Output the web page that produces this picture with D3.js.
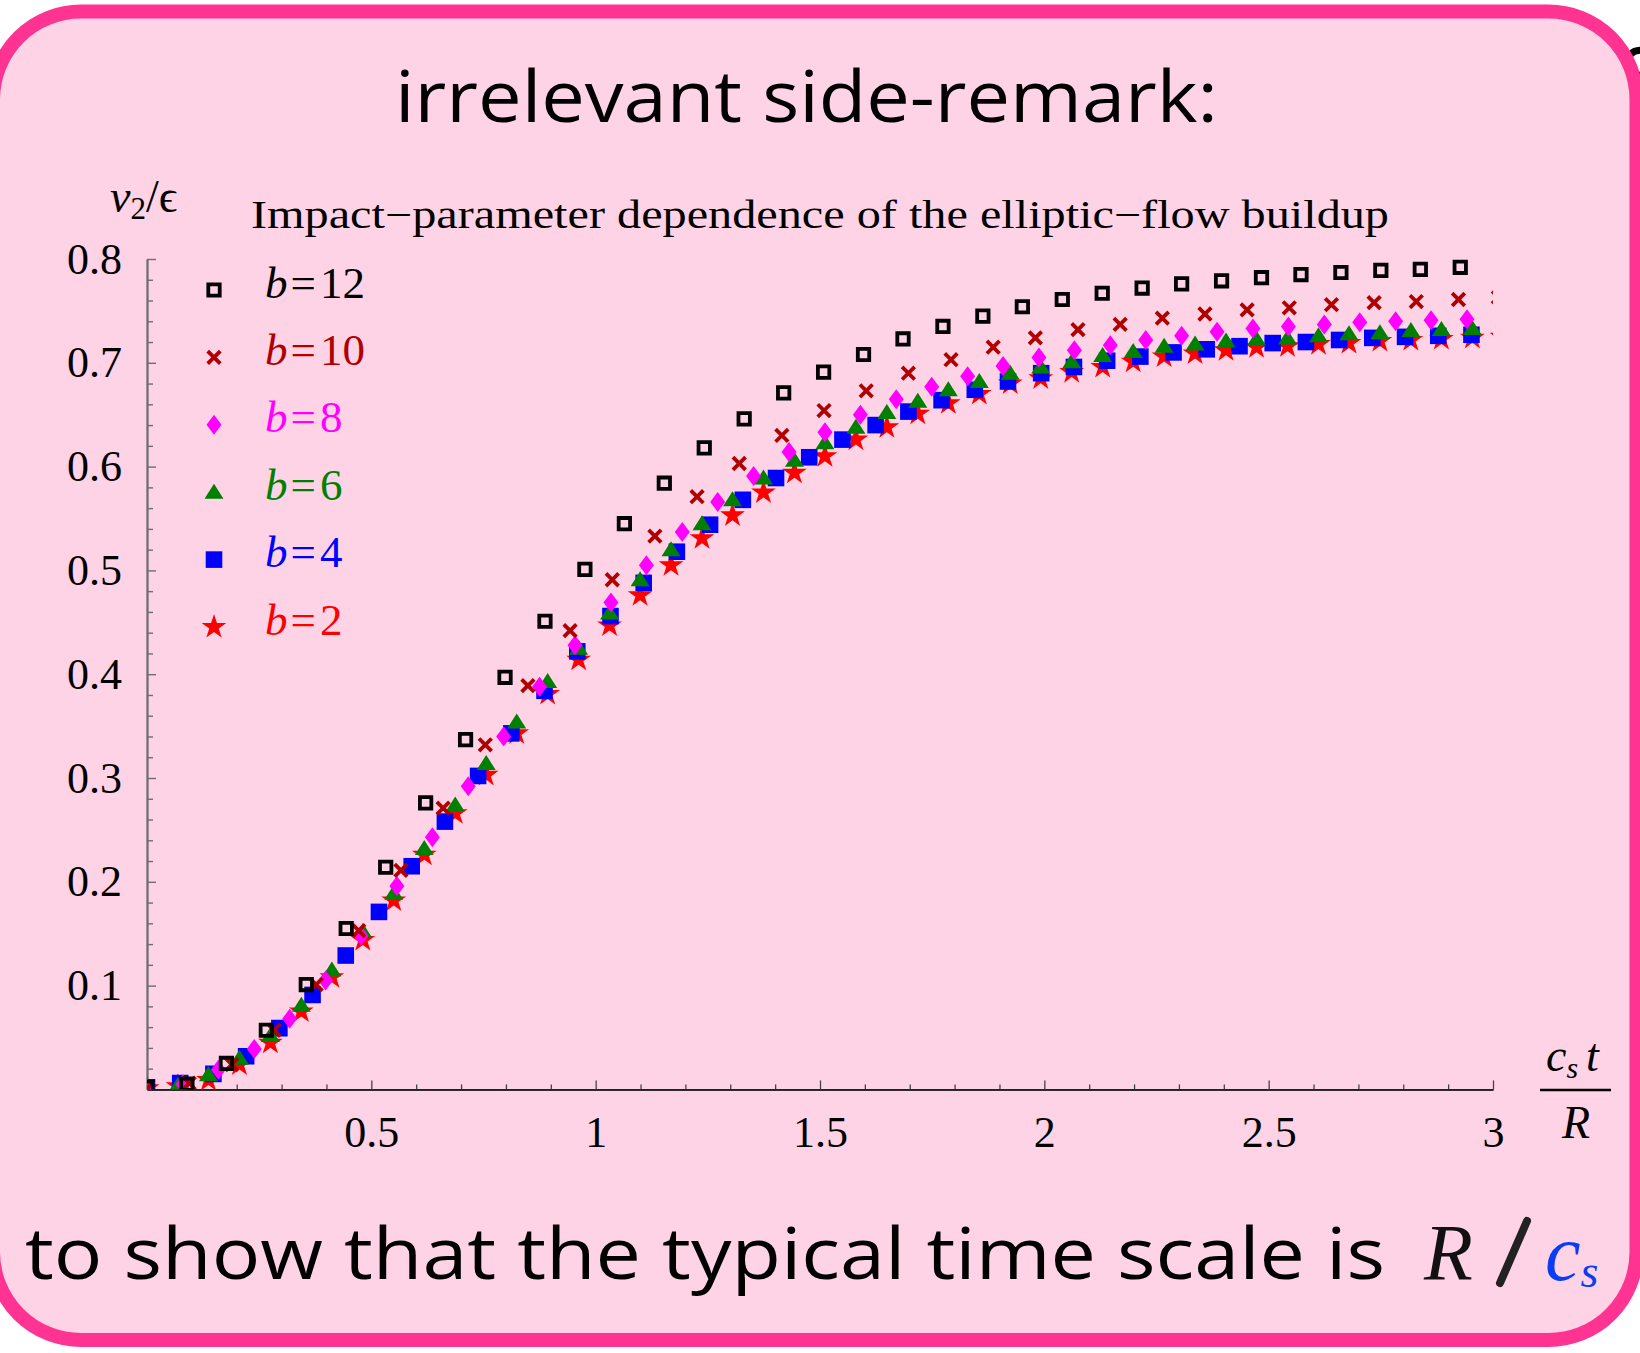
<!DOCTYPE html>
<html><head><meta charset="utf-8">
<script src="https://cdn.jsdelivr.net/npm/d3@7"></script>
<style>html,body{margin:0;padding:0;background:#fff;overflow:hidden}</style>
</head><body><svg id="c" width="1640" height="1353"></svg>
<script>
// ---------------- data ----------------
const seriesLabels = ["12", "10", "8", "6", "4", "2"]; // b values

const t_b12 = [0,0.089,0.177,0.266,0.355,0.444,0.532,0.621,0.710,0.798,0.887,0.976,1.064,1.153,1.242,1.331,1.419,1.508,1.597,1.685,1.774,1.863,1.951,2.040,2.129,2.218,2.306,2.395,2.484,2.572,2.661,2.750,2.838,2.927];
const v_b12 = [0.002,0.005,0.025,0.057,0.101,0.155,0.214,0.276,0.337,0.397,0.451,0.501,0.545,0.584,0.618,0.646,0.671,0.691,0.708,0.723,0.735,0.745,0.754,0.761,0.767,0.772,0.776,0.779,0.782,0.785,0.787,0.789,0.790,0.792];

const t_b10 = [0,0.094,0.189,0.283,0.377,0.472,0.566,0.660,0.754,0.849,0.943,1.037,1.132,1.226,1.320,1.415,1.509,1.603,1.697,1.792,1.886,1.980,2.075,2.169,2.263,2.358,2.452,2.546,2.640,2.735,2.829,2.923,3.012];
const v_b10 = [0.001,0.006,0.024,0.057,0.101,0.153,0.211,0.271,0.332,0.389,0.442,0.491,0.533,0.571,0.603,0.630,0.654,0.673,0.690,0.703,0.715,0.724,0.732,0.737,0.743,0.747,0.751,0.753,0.756,0.758,0.759,0.761,0.763];

const t_b8 = [0,0.080,0.159,0.239,0.318,0.398,0.477,0.557,0.636,0.716,0.795,0.875,0.954,1.034,1.113,1.193,1.272,1.352,1.431,1.511,1.590,1.670,1.749,1.829,1.908,1.988,2.067,2.147,2.226,2.306,2.385,2.465,2.544,2.624,2.703,2.783,2.862,2.942];
const v_b8 = [0.001,0.005,0.019,0.039,0.068,0.105,0.148,0.196,0.243,0.292,0.340,0.388,0.428,0.469,0.505,0.537,0.566,0.591,0.614,0.633,0.650,0.665,0.677,0.687,0.697,0.705,0.712,0.717,0.722,0.726,0.730,0.733,0.735,0.737,0.739,0.740,0.741,0.742];

const t_b6 = [0,0.069,0.137,0.206,0.275,0.344,0.412,0.481,0.550,0.618,0.687,0.756,0.824,0.893,0.962,1.031,1.099,1.168,1.237,1.305,1.374,1.443,1.511,1.580,1.649,1.718,1.786,1.855,1.924,1.992,2.061,2.130,2.198,2.267,2.336,2.405,2.473,2.542,2.611,2.679,2.748,2.817,2.885,2.954];
const v_b6 = [0.001,0.004,0.014,0.030,0.052,0.081,0.115,0.152,0.189,0.232,0.274,0.314,0.354,0.393,0.425,0.459,0.491,0.520,0.545,0.568,0.589,0.606,0.623,0.638,0.652,0.663,0.674,0.682,0.690,0.696,0.701,0.707,0.711,0.716,0.718,0.721,0.723,0.724,0.726,0.728,0.729,0.731,0.732,0.733];

const t_b4 = [0,0.074,0.148,0.221,0.295,0.369,0.443,0.517,0.590,0.664,0.738,0.812,0.886,0.959,1.033,1.107,1.181,1.255,1.328,1.402,1.476,1.550,1.624,1.697,1.771,1.845,1.919,1.993,2.066,2.140,2.214,2.288,2.362,2.435,2.509,2.583,2.657,2.731,2.804,2.878,2.952];
const v_b4 = [0.002,0.006,0.015,0.032,0.059,0.091,0.129,0.171,0.215,0.258,0.302,0.343,0.384,0.422,0.456,0.488,0.518,0.544,0.568,0.589,0.609,0.626,0.640,0.653,0.664,0.674,0.682,0.690,0.696,0.702,0.706,0.710,0.713,0.716,0.719,0.720,0.722,0.724,0.725,0.726,0.727];

const t_b2 = [0,0.069,0.137,0.206,0.275,0.344,0.412,0.481,0.550,0.618,0.687,0.756,0.824,0.893,0.962,1.031,1.099,1.168,1.237,1.305,1.374,1.443,1.511,1.580,1.649,1.718,1.786,1.855,1.924,1.992,2.061,2.130,2.198,2.267,2.336,2.405,2.473,2.542,2.611,2.679,2.748,2.817,2.885,2.954,3.020];
const v_b2 = [0.001,0.003,0.009,0.024,0.045,0.075,0.108,0.144,0.182,0.226,0.266,0.303,0.343,0.381,0.414,0.447,0.476,0.505,0.531,0.553,0.575,0.594,0.610,0.626,0.638,0.651,0.661,0.670,0.680,0.685,0.691,0.696,0.701,0.706,0.709,0.712,0.715,0.716,0.718,0.719,0.721,0.722,0.723,0.724,0.725];

const xTickValues = [0.5, 1, 1.5, 2, 2.5, 3];
const xTickLabels = ["0.5", "1", "1.5", "2", "2.5", "3"];
const yTickValues = [0.1, 0.2, 0.3, 0.4, 0.5, 0.6, 0.7, 0.8];
const yTickLabels = ["0.1", "0.2", "0.3", "0.4", "0.5", "0.6", "0.7", "0.8"];

const titleText = "irrelevant side-remark:";
const subtitleText = "Impact\u2212parameter dependence of the elliptic\u2212flow buildup";
const bottomText = "to show that the typical time scale is";

// ---------------- setup ----------------
const svg = d3.select("#c");
const W = 1640, H = 1353;
const SANS = "'Comic Sans MS','Open Sans','Noto Sans',sans-serif";
const SERIF = "'Liberation Serif','Times New Roman',serif";

svg.append("rect").attr("width", W).attr("height", H).attr("fill", "#fff");
// fragment of a glyph from the neighbouring slide, mostly hidden behind the box
svg.append("path").attr("d", "M1650,52 C1632,46 1622,58 1632,70 C1640,78 1652,80 1650,90")
  .attr("fill", "none").attr("stroke", "#000").attr("stroke-width", 7).attr("stroke-linecap", "round");

svg.append("rect").attr("x", -7).attr("y", 11.5).attr("width", 1643.5).attr("height", 1328.5)
  .attr("rx", 88).attr("ry", 88).attr("fill", "#ffd3e6").attr("stroke", "#ff3392").attr("stroke-width", 14);

// titles
svg.append("text").attr("x", 395).attr("y", 122).attr("font-family", SANS).attr("font-size", 72)
  .attr("font-weight", 500)
  .attr("textLength", 823).attr("lengthAdjust", "spacingAndGlyphs").attr("fill", "#000").text(titleText);

svg.append("text").attr("x", 251).attr("y", 228).attr("font-family", SERIF).attr("font-size", 39)
  .attr("textLength", 1138).attr("lengthAdjust", "spacingAndGlyphs").attr("fill", "#000").text(subtitleText);

// scales
const x = d3.scaleLinear().domain([0, 3]).range([147, 1493]);
const y = d3.scaleLinear().domain([0, 0.8]).range([1089.4, 259]);
const Y0 = y(0), X0 = x(0);

// x axis
const xMinor = d3.range(1, 30).filter(i => i % 5 !== 0).map(i => i / 10);
const gxm = svg.append("g").attr("transform", `translate(0,${Y0})`)
  .call(d3.axisBottom(x).tickValues(xMinor).tickSizeInner(-5).tickSizeOuter(0).tickFormat(""));
const gx = svg.append("g").attr("transform", `translate(0,${Y0})`)
  .call(d3.axisBottom(x).tickValues(xTickValues).tickSizeInner(-9).tickSizeOuter(0).tickPadding(26)
    .tickFormat((d, i) => xTickLabels[i]));
[gxm, gx].forEach(g => {
  g.select(".domain").attr("stroke", "#222").attr("stroke-width", 1.6);
  g.selectAll(".tick line").attr("stroke", "#444").attr("stroke-width", 1.3);
});
gx.selectAll("text").attr("font-family", SERIF).attr("font-size", 44).attr("fill", "#000");

// y axis
const yMinor = d3.range(1, 40).filter(i => i % 5 !== 0).map(i => i / 50);
const gym = svg.append("g").attr("transform", `translate(${X0},0)`)
  .call(d3.axisLeft(y).tickValues(yMinor).tickSizeInner(-6).tickSizeOuter(0).tickFormat(""));
const gy = svg.append("g").attr("transform", `translate(${X0},0)`)
  .call(d3.axisLeft(y).tickValues(yTickValues).tickSizeInner(-9).tickSizeOuter(0).tickPadding(25)
    .tickFormat((d, i) => yTickLabels[i]));
[gym, gy].forEach(g => {
  g.select(".domain").attr("stroke", "#6e6e6e").attr("stroke-width", 1.8);
  g.selectAll(".tick line").attr("stroke", "#6e6e6e").attr("stroke-width", 1.4);
});
gy.selectAll("text").attr("font-family", SERIF).attr("font-size", 44).attr("fill", "#000");

// axis labels
const yl = svg.append("text").attr("x", 110).attr("y", 212).attr("font-family", SERIF).attr("font-size", 46).attr("fill", "#000");
yl.append("tspan").attr("font-style", "italic").text("v");
yl.append("tspan").attr("font-size", 31).attr("dy", 7).text("2");
yl.append("tspan").attr("dy", -7).text("/\u03f5");

const xl = svg.append("text").attr("x", 1546).attr("y", 1071).attr("font-family", SERIF).attr("font-size", 46).attr("font-style", "italic").attr("fill", "#000");
xl.append("tspan").text("c");
xl.append("tspan").attr("font-size", 30).attr("dy", 7).text("s");
xl.append("tspan").attr("dy", -7).attr("dx", 8).text("t");
svg.append("line").attr("x1", 1540).attr("x2", 1611).attr("y1", 1090).attr("y2", 1090).attr("stroke", "#000").attr("stroke-width", 2.4);
svg.append("text").attr("x", 1576).attr("y", 1138).attr("text-anchor", "middle").attr("font-family", SERIF)
  .attr("font-size", 46).attr("font-style", "italic").attr("fill", "#000").text("R");

// markers
const shapes = {
  openSquare: "M-5.7,-5.7H5.7V5.7H-5.7Z",
  cross: "M-6.3,-6.3L6.3,6.3M-6.3,6.3L6.3,-6.3",
  diamond: "M0,-10L7.5,0L0,10L-7.5,0Z",
  triangle: "M0,-8.5L9.5,6.5L-9.5,6.5Z",
  filledSquare: "M-8.3,-8.3H8.3V8.3H-8.3Z",
  star: d3.symbol(d3.symbolStar, 190)()
};
const series = [
  { b: seriesLabels[0], t: t_b12, v: v_b12, color: "#000000", shape: "openSquare", fill: "none", stroke: 3.8 },
  { b: seriesLabels[1], t: t_b10, v: v_b10, color: "#b00000", shape: "cross", fill: "none", stroke: 3.8 },
  { b: seriesLabels[2], t: t_b8,  v: v_b8,  color: "#ff00ff", shape: "diamond", fill: "#ff00ff", stroke: 0 },
  { b: seriesLabels[3], t: t_b6,  v: v_b6,  color: "#008000", shape: "triangle", fill: "#008000", stroke: 0 },
  { b: seriesLabels[4], t: t_b4,  v: v_b4,  color: "#0000ff", shape: "filledSquare", fill: "#0000ff", stroke: 0 },
  { b: seriesLabels[5], t: t_b2,  v: v_b2,  color: "#ff0000", shape: "star", fill: "#ff0000", stroke: 0 }
];

svg.append("defs").append("clipPath").attr("id", "plotclip").append("rect")
  .attr("x", X0).attr("y", 240).attr("width", x(3) - X0).attr("height", Y0 - 240);

const plot = svg.append("g").attr("clip-path", "url(#plotclip)");
// draw from b=2 (bottom) to b=12 (top)
series.slice().reverse().forEach(s => {
  plot.append("g").selectAll("path").data(s.t.map((t, i) => [t, s.v[i]])).join("path")
    .attr("d", shapes[s.shape])
    .attr("transform", d => `translate(${x(d[0])},${y(d[1])})`)
    .attr("fill", s.fill)
    .attr("stroke", s.stroke ? s.color : "none")
    .attr("stroke-width", s.stroke);
});

// legend
const legendRowY = d3.scalePoint().domain(seriesLabels).range([290, 627]);
series.forEach(s => {
  const cy = legendRowY(s.b);
  svg.append("path").attr("d", shapes[s.shape]).attr("transform", `translate(214,${cy})`)
    .attr("fill", s.fill).attr("stroke", s.stroke ? s.color : "none").attr("stroke-width", s.stroke);
  const t = svg.append("text").attr("x", 265).attr("y", cy + 7.5).attr("font-family", SERIF)
    .attr("font-size", 45).attr("fill", s.color);
  t.append("tspan").attr("font-style", "italic").text("b");
  t.append("tspan").attr("dx", 3).text("=");
  t.append("tspan").attr("dx", 4).text(s.b);
});

// bottom text
svg.append("text").attr("x", 25).attr("y", 1279).attr("font-family", SANS).attr("font-size", 72)
  .attr("font-weight", 500)
  .attr("textLength", 1360).attr("lengthAdjust", "spacingAndGlyphs").attr("fill", "#000").text(bottomText);
svg.append("text").attr("x", 1424).attr("y", 1280).attr("font-family", SERIF).attr("font-size", 80)
  .attr("font-style", "italic").attr("fill", "#111").text("R");
svg.append("line").attr("x1", 1527).attr("y1", 1221).attr("x2", 1500).attr("y2", 1283)
  .attr("stroke", "#222").attr("stroke-width", 8).attr("stroke-linecap", "round");
const cs = svg.append("text").attr("x", 1545).attr("y", 1280).attr("font-family", SERIF).attr("font-size", 80)
  .attr("font-style", "italic").attr("fill", "#0a3cf5");
cs.append("tspan").text("c");
cs.append("tspan").attr("font-size", 46).attr("dy", 7).text("s");
</script></body></html>
